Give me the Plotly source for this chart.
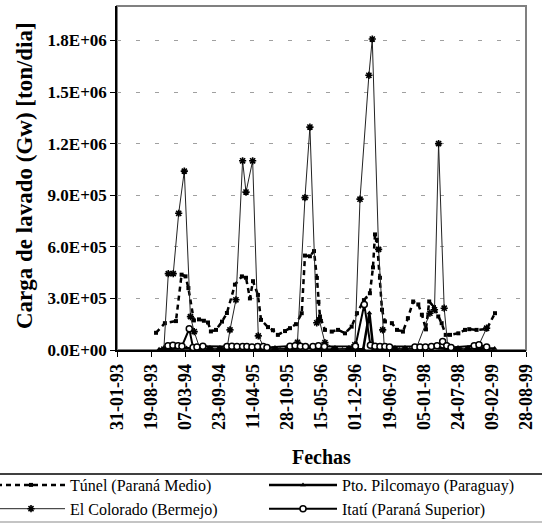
import plotly.graph_objects as go

# ---------------- data ----------------
tunel_dates = ["1993-09-17","1993-11-08","1994-01-12","1994-02-14","1994-03-09","1994-03-26","1994-04-27",
               "1994-05-27","1994-06-25","1994-07-19","1994-08-05","1994-09-04","1994-10-09","1994-11-07",
               "1994-12-24","1995-02-03","1995-02-27","1995-03-22","1995-04-09","1995-05-08","1995-05-26",
               "1995-07-06","1995-08-04","1995-09-02","1995-10-14","1995-11-12","1995-12-17","1996-01-20",
               "1996-02-08","1996-03-08","1996-04-01","1996-04-18","1996-04-27","1996-05-06","1996-06-04",
               "1996-07-14","1996-08-20","1996-09-30","1996-11-08","1996-12-09","1997-01-19","1997-02-23",
               "1997-03-13","1997-03-25","1997-04-05","1997-04-23","1997-05-05","1997-05-22","1997-07-02",
               "1997-08-01","1997-09-05","1997-10-04","1997-11-04","1997-12-04","1997-12-25","1998-01-18",
               "1998-02-06","1998-03-06","1998-03-31","1998-04-20","1998-05-14","1998-06-08","1998-07-27",
               "1998-09-04","1998-09-29","1998-11-11","1999-01-09","1999-02-27"]
tunel_vals = [100e3,156e3,168e3,438e3,428e3,360e3,172e3,
              178e3,170e3,160e3,108e3,117e3,165e3,215e3,
              380e3,428e3,420e3,300e3,400e3,320e3,175e3,
              133e3,115e3,88e3,110e3,127e3,150e3,214e3,
              549e3,545e3,575e3,419e3,280e3,195e3,117e3,
              107e3,117e3,97e3,136e3,214e3,290e3,330e3,
              480e3,672e3,640e3,420e3,234e3,166e3,156e3,
              117e3,107e3,185e3,282e3,265e3,205e3,120e3,
              282e3,250e3,195e3,156e3,88e3,88e3,97e3,
              117e3,121e3,117e3,121e3,214e3]

pilco_dates = ["1993-10-05","1993-11-15","1993-12-15",
               "1994-01-15","1994-02-15","1994-03-15","1994-04-15","1994-05-15","1994-06-15",
               "1994-07-15","1994-08-15","1994-09-15","1994-10-15","1994-11-15","1994-12-15",
               "1995-01-15","1995-02-15","1995-03-15","1995-04-15","1995-05-15","1995-06-15",
               "1995-07-15","1995-08-15","1995-09-15","1995-10-15","1995-11-15","1995-12-15",
               "1996-01-15","1996-02-15","1996-03-15","1996-04-15","1996-05-15","1996-06-15",
               "1996-07-15","1996-08-15","1996-09-15","1996-10-15","1996-11-15","1996-12-15",
               "1997-01-15","1997-02-20","1997-03-15","1997-04-15","1997-05-15","1997-06-15",
               "1997-07-15","1997-08-15","1997-09-15","1997-10-15","1997-11-15","1997-12-15",
               "1998-01-15","1998-02-15","1998-03-15","1998-04-15","1998-05-15","1998-06-15",
               "1998-07-15","1998-08-15","1998-09-15","1998-10-15","1998-11-15","1998-12-15",
               "1999-01-15","1999-02-25"]
pilco_vals = [4e3,6e3,9e3,
              12e3,14e3,12e3,8e3,5e3,4e3,
              3e3,3e3,3e3,4e3,6e3,9e3,
              12e3,15e3,13e3,9e3,5e3,4e3,
              3e3,3e3,3e3,4e3,6e3,8e3,
              11e3,14e3,12e3,8e3,5e3,4e3,
              3e3,3e3,3e3,4e3,5e3,7e3,
              6e3,215e3,8e3,9e3,6e3,4e3,
              3e3,3e3,3e3,4e3,6e3,9e3,
              12e3,14e3,13e3,10e3,6e3,4e3,
              3e3,3e3,3e3,4e3,6e3,8e3,
              10e3,9e3]

colorado_dates = ["1993-11-02","1993-11-28","1993-12-27","1994-01-28","1994-03-02","1994-04-07","1994-04-29",
                  "1994-06-02","1994-07-30","1994-09-27","1994-11-07","1994-11-25","1994-12-30","1995-02-07",
                  "1995-02-27","1995-04-07","1995-05-10","1995-06-18","1995-08-16","1995-10-31","1995-12-26",
                  "1996-02-08","1996-03-08","1996-04-17","1996-05-02","1996-06-04","1996-08-02","1996-10-23",
                  "1996-11-27","1996-12-27","1997-02-17","1997-03-09","1997-04-15","1997-05-09","1997-05-19",
                  "1997-07-20","1997-09-17","1997-11-20","1998-02-10","1998-03-09","1998-04-02","1998-05-05",
                  "1998-05-27","1998-07-25","1998-09-21","1998-11-13","1999-01-09"]
colorado_vals = [5e3,444e3,444e3,795e3,1040e3,194e3,107e3,
                 5e3,5e3,5e3,5e3,117e3,292e3,1100e3,
                 918e3,1100e3,82e3,5e3,5e3,5e3,45e3,
                 886e3,1296e3,158e3,175e3,43e3,5e3,5e3,
                 30e3,877e3,1597e3,1808e3,585e3,117e3,5e3,
                 5e3,5e3,5e3,214e3,234e3,1200e3,243e3,
                 10e3,5e3,5e3,5e3,127e3]

itati_dates = ["1993-11-26","1993-12-25","1994-01-24","1994-02-16","1994-03-31","1994-04-22","1994-05-15",
               "1994-06-19","1994-11-07","1994-12-06","1995-01-05","1995-02-07","1995-03-04","1995-04-03",
               "1995-05-06","1995-06-08","1995-06-30","1995-11-12","1995-12-12","1996-01-12","1996-02-11",
               "1996-03-26","1996-04-27","1996-06-01","1996-11-30","1997-01-21","1997-02-26","1997-03-25",
               "1997-04-23","1997-05-22","1997-06-18","1997-11-14","1997-12-14","1998-01-15","1998-02-19",
               "1998-03-24","1998-04-26","1998-05-20","1998-06-14","1998-10-28","1998-11-25","1999-01-09"]
itati_vals = [25e3,28e3,25e3,22e3,123e3,15e3,18e3,
              22e3,20e3,22e3,20e3,20e3,20e3,18e3,
              20e3,20e3,15e3,22e3,25e3,22e3,20e3,
              20e3,25e3,20e3,22e3,264e3,28e3,22e3,
              20e3,20e3,18e3,18e3,18e3,18e3,20e3,
              25e3,50e3,25e3,15e3,25e3,30e3,18e3]

x_tick_dates = ["1993-01-31","1993-08-19","1994-03-07","1994-09-23","1995-04-11","1995-10-28",
                "1996-05-15","1996-12-01","1997-06-19","1998-01-05","1998-07-24","1999-02-09","1999-08-28"]
x_tick_labels = ["31-01-93","19-08-93","07-03-94","23-09-94","11-04-95","28-10-95",
                 "15-05-96","01-12-96","19-06-97","05-01-98","24-07-98","09-02-99","28-08-99"]
y_tick_vals = [0, 3e5, 6e5, 9e5, 1.2e6, 1.5e6, 1.8e6]
y_tick_labels = ["0.0E+00","3.0E+05","6.0E+05","9.0E+05","1.2E+06","1.5E+06","1.8E+06"]

SERIF = "Liberation Serif"

fig = go.Figure()
fig.add_trace(go.Scatter(
    x=tunel_dates, y=tunel_vals, name="Túnel (Paraná Medio)", mode="lines+markers", legend="legend",
    line=dict(color="black", width=2.5, dash="5px,4px"),
    marker=dict(symbol="square", size=4, color="black")))
fig.add_trace(go.Scatter(
    x=pilco_dates, y=pilco_vals, name="Pto. Pilcomayo (Paraguay)", mode="lines+markers", legend="legend2",
    line=dict(color="black", width=2.5),
    marker=dict(symbol="triangle-up", size=5, color="black")))
fig.add_trace(go.Scatter(
    x=colorado_dates, y=colorado_vals, name="El Colorado (Bermejo)", mode="lines+markers", legend="legend",
    line=dict(color="#222222", width=1),
    marker=dict(symbol="asterisk-open", size=6, color="black", line=dict(color="black", width=1.6))))
fig.add_trace(go.Scatter(
    x=itati_dates, y=itati_vals, name="Itatí (Paraná Superior)", mode="lines+markers", legend="legend2",
    line=dict(color="black", width=2),
    marker=dict(symbol="circle", size=6, color="white", line=dict(color="black", width=1.5))))

L, R, T, B = 117, 16, 6, 180
W, H = 542, 530
pw, ph = W - L - R, H - T - B

def px_x(p):
    return (p - L) / pw

def px_y(p):
    return (H - B - p) / ph

legend_common = dict(orientation="v", yanchor="top", xanchor="left", xref="paper", yref="paper",
                     font=dict(family=SERIF, size=16, color="black"), itemwidth=68,
                     bgcolor="rgba(0,0,0,0)", borderwidth=0, tracegroupgap=0)

fig.update_layout(
    width=W, height=H,
    margin=dict(l=L, r=R, t=T, b=B, autoexpand=False),
    paper_bgcolor="white", plot_bgcolor="white",
    font=dict(family=SERIF, color="black"),
    showlegend=True,
    legend=dict(x=px_x(-8), y=px_y(468), **legend_common),
    legend2=dict(x=px_x(264), y=px_y(468), **legend_common),
    xaxis=dict(type="date", range=[x_tick_dates[0], x_tick_dates[-1]],
               tickvals=x_tick_dates, ticktext=x_tick_labels, tickangle=-90,
               tickfont=dict(family=SERIF, size=18, color="black", weight="bold"),
               ticks="outside", ticklen=5, tickcolor="black", tickwidth=1,
               showline=True, linecolor="black", linewidth=1.5,
               showgrid=False, zeroline=False),
    yaxis=dict(range=[0, 2.0e6], tickvals=y_tick_vals, ticktext=y_tick_labels,
               tickfont=dict(family=SERIF, size=17, color="black", weight="bold"),
               ticks="outside", ticklen=5, tickcolor="black", tickwidth=1,
               showline=True, linecolor="black", linewidth=1.5,
               showgrid=True, gridcolor="#a0a0a0", gridwidth=1, griddash="4px,15px",
               zeroline=False),
    shapes=[
        dict(type="rect", xref="paper", yref="paper", x0=0, x1=1, y0=0, y1=1,
             line=dict(color="#808080", width=2), layer="below"),
        dict(type="line", xref="paper", yref="paper", x0=px_x(0), x1=px_x(W), y0=px_y(474), y1=px_y(474),
             line=dict(color="black", width=1.5)),
        dict(type="line", xref="paper", yref="paper", x0=px_x(0), x1=px_x(W), y0=px_y(522), y1=px_y(522),
             line=dict(color="#b0b0b0", width=1.5)),
    ],
    annotations=[
        dict(text="<b>Carga de lavado (Gw) [ton/dia]</b>", xref="paper", yref="paper",
             x=px_x(24), y=px_y(176), xanchor="center", yanchor="middle", textangle=-90,
             showarrow=False, font=dict(family=SERIF, size=23, color="black")),
        dict(text="<b>Fechas</b>", xref="paper", yref="paper",
             x=px_x(321), y=px_y(457), xanchor="center", yanchor="middle",
             showarrow=False, font=dict(family=SERIF, size=20, color="black")),
    ],
)

fig.write_html("out.html", config={"displayModeBar": False},
               post_script="document.body.style.margin='0';document.body.style.overflow='hidden';")
